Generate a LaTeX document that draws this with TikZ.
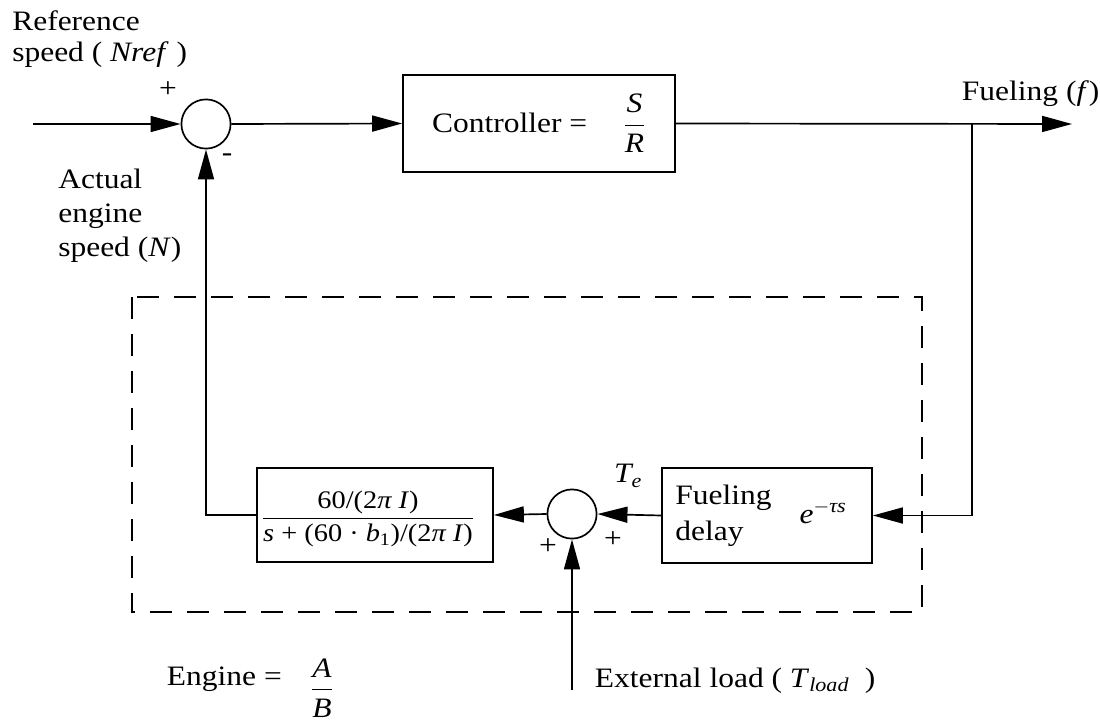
\documentclass[tikz,border=0pt]{standalone}
\usepackage{amsmath}
\usepackage{fontspec}
\setmainfont[FakeStretch=1.12]{Liberation Serif}
\usetikzlibrary{arrows.meta}

\begin{document}
\begin{tikzpicture}[x=0.25mm, y=-0.25mm,
	every node/.style={font=\fontsize{20}{24}\selectfont},
	blk/.style={draw, line width=1.2pt, rectangle, inner sep=0pt},
	sumnode/.style={draw, line width=1.2pt, circle, minimum size=12.3mm, inner sep=0pt},
	sig/.style={line width=1.2pt, -{Triangle[length=7.5mm, width=4mm]}},
	enginebox/.style={line width=1pt, dash pattern=on 5.5mm off 3.75mm}]
	\useasboundingbox (0,0) rectangle (1100,723);
	% outer loop
	\node[sumnode] (cmp) at (206,124) {};
	\node[blk, minimum width=68mm, minimum height=24.25mm] (ctrl) at (539,123.5) {Controller =\hspace{9mm}$\dfrac{\textit{S}}{\textit{R}}$};
	\coordinate (nin) at (33,124);
	\coordinate (fout) at (1072,124);
	\coordinate (tap) at (972,124);
	% engine
	\node[blk, minimum width=52.5mm, minimum height=23.75mm] (delay) at (767,515.5) {};
	\node[sumnode] (tsum) at (572,514) {};
	\node[blk, minimum width=59mm, minimum height=23.5mm] (plant) at (375,515) {};
	\node[font=\fontsize{18}{22}\selectfont] (gain) at (368,519) {$\dfrac{\text{60/(2\textit{π I})}}{\text{\textit{s} + (60 · \textit{b}\textsubscript{1})/(2\textit{π I})}}$};
	\coordinate (lin) at (572,690);
	\draw[enginebox] (132,297) rectangle (922,612);
	% signals
	\draw[sig] (nin) -- (cmp.west);
	\draw[sig] (cmp.east) -- (ctrl.west);
	\draw[sig] (ctrl.east) -- (fout);
	\draw[sig] (tap) |- (delay.east);
	\draw[sig] (delay.west) -- (tsum.east);
	\draw[sig] (tsum.west) -- (plant.east);
	\draw[sig] (plant.west) -| (cmp.south);
	\draw[sig] (lin) -- (tsum.south);
	% labels
	\node[anchor=north west, align=left, inner sep=0pt, font=\fontsize{20}{22}\selectfont] (reflbl) at (12,10) {Reference\\speed ( \textit{Nref} )};
	\node (pin) at (168,90) {+};
	\node (nneg) at (227,158) {-};
	\node[anchor=north west, align=left, inner sep=0pt, font=\fontsize{20}{24.2}\selectfont] (spdlbl) at (58,169) {Actual\\engine\\speed (\textit{N})};
	\node[anchor=base west] (fuel) at (957,100) {Fueling (\textit{f})};
	\node[anchor=west, align=left, inner sep=0pt, font=\fontsize{20}{25.5}\selectfont] (dlbl) at (675,516) {Fueling\\delay};
	\node (expo) at (823,512) {$\textit{e}^{-\textit{τs}}$};
	\node (te) at (628,476) {$\textit{T}_{\textit{e}}$};
	\node (pl) at (548,547) {+};
	\node (pr) at (613,540) {+};
	\node[anchor=base west] (eng) at (162,685) {Engine =};
	\node (engfrac) at (322,688) {$\dfrac{\textit{A}}{\textit{B}}$};
	\node[anchor=base west] (load) at (590,687) {External load ( \textit{T}$_{\textit{load}}$\ \ )};
\end{tikzpicture}
\end{document}
